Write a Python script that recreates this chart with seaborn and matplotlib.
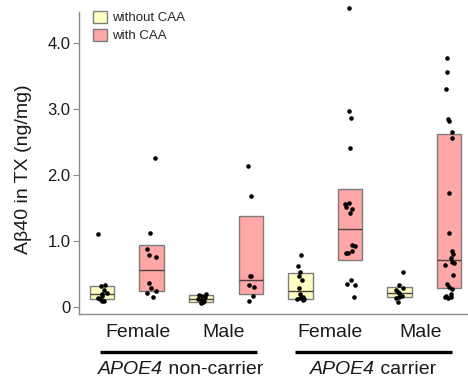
import numpy as np
import pandas as pd
import matplotlib
matplotlib.use("Agg")
import matplotlib.pyplot as plt
import matplotlib.transforms as mtransforms
from matplotlib.patches import Patch
import seaborn as sns

# Abeta40 in TX fraction (ng/mg) per subject, by APOE4 status, sex and CAA
nc_female_without = [1.10, 0.335, 0.31, 0.25, 0.21, 0.195, 0.16, 0.13, 0.115, 0.09, 0.085]
nc_female_with = [2.26, 1.115, 0.875, 0.78, 0.75, 0.365, 0.29, 0.24, 0.215, 0.14]
nc_male_without = [0.19, 0.18, 0.165, 0.14, 0.117, 0.10, 0.085, 0.065, 0.06]
nc_male_with = [2.14, 1.676, 0.47, 0.47, 0.334, 0.30, 0.162, 0.09]
c_female_without = [0.785, 0.62, 0.52, 0.47, 0.40, 0.29, 0.20, 0.15, 0.13, 0.12, 0.11, 0.10]
c_female_with = [4.536, 2.97, 2.866, 2.415, 1.57, 1.564, 1.52, 1.488, 1.418,
                 0.932, 0.926, 0.85, 0.81, 0.81, 0.405, 0.345, 0.33, 0.152]
c_male_without = [0.53, 0.33, 0.29, 0.25, 0.22, 0.21, 0.16, 0.145, 0.13, 0.065]
c_male_with = [3.77, 3.57, 3.30, 2.85, 2.82, 2.65, 2.56, 1.72, 1.115, 0.846, 0.80, 0.745,
               0.68, 0.66, 0.63, 0.48, 0.345, 0.30, 0.27, 0.20, 0.16, 0.15, 0.14, 0.13]

carriers = ["non-carrier", "carrier"]
sexes = ["Female", "Male"]
caa_levels = ["without CAA", "with CAA"]
gene = "APOE4"
y_ticks = [0, 1, 2, 3, 4]
y_tick_labels = ["0", "1.0", "2.0", "3.0", "4.0"]

series = {
    ("non-carrier", "Female", "without CAA"): nc_female_without,
    ("non-carrier", "Female", "with CAA"): nc_female_with,
    ("non-carrier", "Male", "without CAA"): nc_male_without,
    ("non-carrier", "Male", "with CAA"): nc_male_with,
    ("carrier", "Female", "without CAA"): c_female_without,
    ("carrier", "Female", "with CAA"): c_female_with,
    ("carrier", "Male", "without CAA"): c_male_without,
    ("carrier", "Male", "with CAA"): c_male_with,
}

rows = []
order = []
for carrier in carriers:
    for sex in sexes:
        for caa in caa_levels:
            key = f"{carrier}|{sex}|{caa}"
            order.append(key)
            for v in series[(carrier, sex, caa)]:
                rows.append({"group": key, "CAA": caa, "value": v})
df = pd.DataFrame(rows)

caa_colors = {"without CAA": "#FFFFC4", "with CAA": "#FFA6A6"}
edge_gray = "#7d7d7d"
axis_gray = "#8a8a8a"
text_color = "#1a1a1a"

sns.set_theme(style="white")
plt.rcParams["font.family"] = ["Liberation Sans", "DejaVu Sans"]

fig = plt.figure(figsize=(4.68, 3.79), dpi=100)
ax = fig.add_axes([0.1688, 0.1715, 0.8312, 0.8179])

# Individual subjects
np.random.seed(7)
sns.stripplot(data=df, x="group", y="value", order=order, color="black",
              size=3.3, jitter=0.1, linewidth=0, ax=ax, zorder=3, clip_on=False)

# Boxes: interquartile range with median line, no whiskers
stats = []
for key in order:
    vals = df.loc[df["group"] == key, "value"].to_numpy()
    q1, med, q3 = np.percentile(vals, [25, 50, 75], method="weibull")
    stats.append({"med": med, "q1": q1, "q3": q3, "whislo": q1, "whishi": q3,
                  "fliers": [], "label": key})
bp = ax.bxp(stats, positions=range(len(order)), widths=0.49, patch_artist=True,
            showfliers=False, showcaps=False, manage_ticks=False,
            boxprops=dict(edgecolor=edge_gray, linewidth=1.0),
            medianprops=dict(color="#4a4040", linewidth=1.0),
            whiskerprops=dict(linewidth=0), zorder=2)
for patch, key in zip(bp["boxes"], order):
    patch.set_facecolor(caa_colors[key.split("|")[2]])

ax.set_xlim(-0.4637, 7.379)
ax.set_ylim(-0.111, 4.597)

# Axes styling
for side in ["top", "right"]:
    ax.spines[side].set_visible(False)
for side in ["left", "bottom"]:
    ax.spines[side].set_color(axis_gray)
    ax.spines[side].set_linewidth(1.0)
ax.spines["left"].set_bounds(-0.111, 4.475)

ax.set_yticks(y_ticks)
ax.set_yticklabels(y_tick_labels)
ax.tick_params(axis="y", direction="out", length=4, width=0.8, color=axis_gray,
               pad=2, labelsize=12, labelcolor=text_color, left=True)
ax.set_ylabel("Aβ40 in TX (ng/mg)", fontsize=14, color=text_color)
ax.yaxis.set_label_coords(-0.122, 0.468)

# Sex labels under each pair of boxes
sex_label_x = [0.72, 2.46, 4.59, 6.43]
ax.set_xticks(sex_label_x)
ax.set_xticklabels(sexes * 2)
ax.tick_params(axis="x", length=0, pad=7, labelsize=14, labelcolor=text_color, bottom=False)
ax.set_xlabel("")

# Legend
handles = [Patch(facecolor=caa_colors[c], edgecolor=edge_gray, linewidth=1.0, label=c)
           for c in caa_levels]
fig.legend(handles=handles, loc="upper left", bbox_to_anchor=(93 / 468, 1 - 11 / 379),
           frameon=False, fontsize=9.5, handlelength=1.05, handleheight=1.0,
           handletextpad=0.4, labelspacing=0.35, borderpad=0, borderaxespad=0)

# APOE4 group brackets and labels (gene name in italics)
trans = mtransforms.blended_transform_factory(ax.transData, ax.transAxes)
bracket_spans = [(-0.04, 3.125), (3.89, 7.06)]
bracket_text_x = [1.59, 5.46]
bracket_y, title_y = -0.1216, -0.18
fig.canvas.draw()
renderer = fig.canvas.get_renderer()
for (x0, x1), tx, carrier in zip(bracket_spans, bracket_text_x, carriers):
    ax.plot([x0, x1], [bracket_y, bracket_y], color="black", linewidth=2.4,
            transform=trans, clip_on=False, solid_capstyle="butt")
    t_gene = ax.text(tx, title_y, gene, transform=trans, ha="left", va="center",
                     fontsize=14, fontstyle="italic", color=text_color)
    t_rest = ax.text(tx, title_y, " " + carrier, transform=trans, ha="left",
                     va="center", fontsize=14, color=text_color)
    w_gene = t_gene.get_window_extent(renderer).width
    w_rest = t_rest.get_window_extent(renderer).width
    cx = ax.transData.transform((tx, 0))[0]
    start = cx - (w_gene + w_rest) / 2
    inv = ax.transData.inverted()
    t_gene.set_x(inv.transform((start, 0))[0])
    t_rest.set_x(inv.transform((start + w_gene, 0))[0])

fig.savefig("out.png", dpi=100)
